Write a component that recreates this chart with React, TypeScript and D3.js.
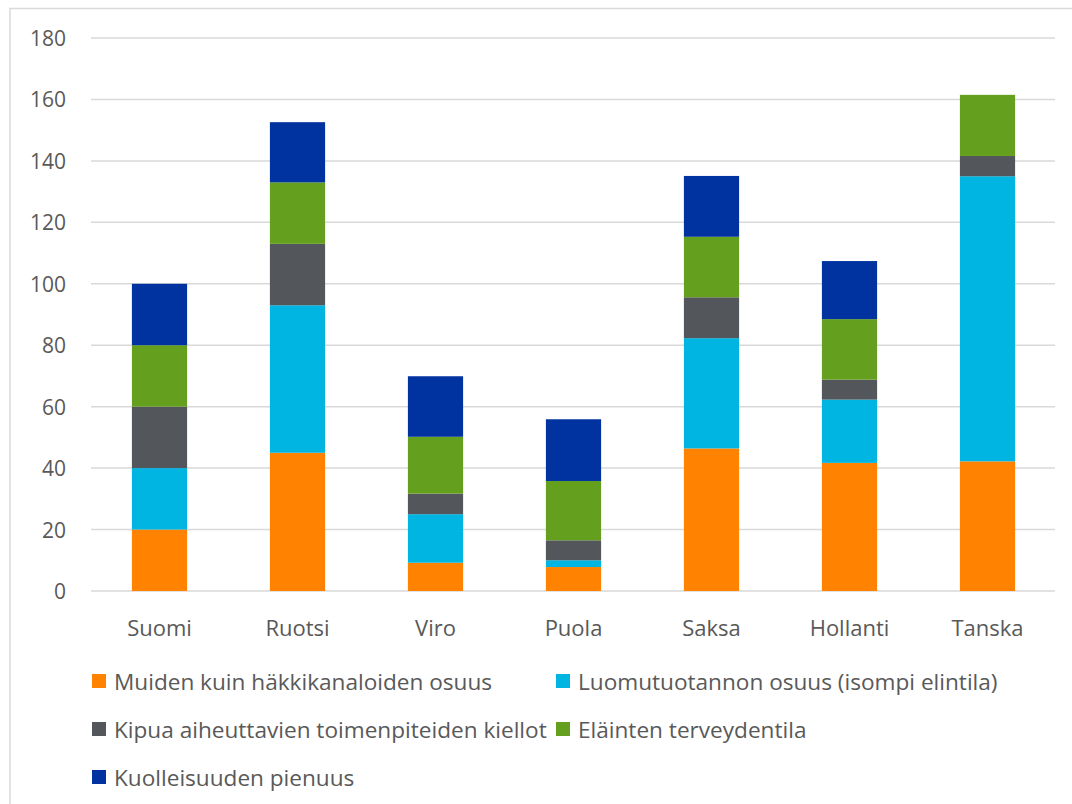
/** Stacked column chart — hen welfare score components by country. */

import { useMemo } from "react";
import * as d3 from "d3";

const countries = ["Suomi", "Ruotsi", "Viro", "Puola", "Saksa", "Hollanti", "Tanska"];

// Series values, one number per country (bottom to top in the stack)
const muidenKuinHakki = [20, 45, 9.2, 7.8, 46.4, 41.7, 42.2];
const luomuOsuus = [20, 48, 15.8, 2.2, 35.9, 20.6, 92.8];
const kipuaKiellot = [20, 20, 6.7, 6.5, 13.3, 6.5, 6.6];
const terveydentila = [20, 20, 18.5, 19.3, 19.7, 19.7, 19.9];
const kuolleisuus = [20, 19.6, 19.7, 20.1, 19.8, 18.9, 0];

const seriesNames = [
  "Muiden kuin häkkikanaloiden osuus",
  "Luomutuotannon osuus (isompi elintila)",
  "Kipua aiheuttavien toimenpiteiden kiellot",
  "Eläinten terveydentila",
  "Kuolleisuuden pienuus",
];
const seriesValues = [muidenKuinHakki, luomuOsuus, kipuaKiellot, terveydentila, kuolleisuus];
const seriesColors = ["#FF8200", "#00B5E2", "#53565A", "#64A01E", "#0032A0"];

const yTickValues = [0, 20, 40, 60, 80, 100, 120, 140, 160, 180];

const W = 1072;
const H = 804;
const FONT = "'Open Sans', 'Noto Sans', sans-serif";
const TEXT = "#595959";
const GRID = "#d9d9d9";

export default function App() {
  const plot = { left: 90.5, right: 1056.5, top: 38, bottom: 591 };

  const rows = useMemo(
    () =>
      countries.map((c, i) => {
        const row: Record<string, number | string> = { country: c };
        seriesNames.forEach((s, j) => (row[s] = seriesValues[j][i]));
        return row;
      }),
    [],
  );

  const stacked = useMemo(
    () => d3.stack<Record<string, number | string>>().keys(seriesNames)(rows as any),
    [rows],
  );

  const x = d3
    .scaleBand<string>()
    .domain(countries)
    .range([plot.left, plot.right])
    .paddingInner(0.6)
    .paddingOuter(0.3);

  const y = d3.scaleLinear().domain([0, 180]).range([plot.bottom, plot.top]);

  // legend layout: two columns, three rows
  const legendCols = [92, 556];
  const legendRows = [681, 729, 777];

  return (
    <svg
      width={W}
      height={H}
      style={{ position: "absolute", left: 0, top: 0, background: "#fff" }}
      fontFamily={FONT}
    >
      {/* chart border (runs off the right and bottom edges) */}
      <rect x={10} y={8.5} width={W + 20} height={H + 20} fill="#fff" stroke={GRID} strokeWidth={1.5} />

      {/* gridlines */}
      {yTickValues.map((t) => (
        <line
          key={t}
          x1={91}
          x2={1055}
          y1={y(t)}
          y2={y(t)}
          stroke={GRID}
          strokeWidth={1.5}
        />
      ))}

      {/* y tick labels */}
      {yTickValues.map((t) => (
        <text
          key={t}
          x={66}
          y={y(t)}
          fill={TEXT}
          fontSize={21}
          textAnchor="end"
          dominantBaseline="central"
        >
          {t}
        </text>
      ))}

      {/* stacked bars */}
      {stacked.map((layer, si) => (
        <g key={layer.key} fill={seriesColors[si]}>
          {layer.map((d, ci) =>
            d[1] - d[0] > 0 ? (
              <rect
                key={ci}
                x={x(countries[ci])}
                y={y(d[1])}
                width={x.bandwidth()}
                height={y(d[0]) - y(d[1])}
              />
            ) : null,
          )}
        </g>
      ))}

      {/* category labels */}
      {countries.map((c) => (
        <text
          key={c}
          x={(x(c) ?? 0) + x.bandwidth() / 2}
          y={627}
          fill={TEXT}
          fontSize={22}
          textAnchor="middle"
          dominantBaseline="central"
        >
          {c}
        </text>
      ))}

      {/* legend */}
      {seriesNames.map((s, i) => {
        const lx = legendCols[i % 2];
        const ly = legendRows[Math.floor(i / 2)];
        return (
          <g key={s}>
            <rect x={lx} y={ly - 7} width={14} height={14} fill={seriesColors[i]} />
            <text
              x={lx + 22}
              y={ly}
              fill={TEXT}
              fontSize={22.6}
              dominantBaseline="central"
            >
              {s}
            </text>
          </g>
        );
      })}
    </svg>
  );
}
